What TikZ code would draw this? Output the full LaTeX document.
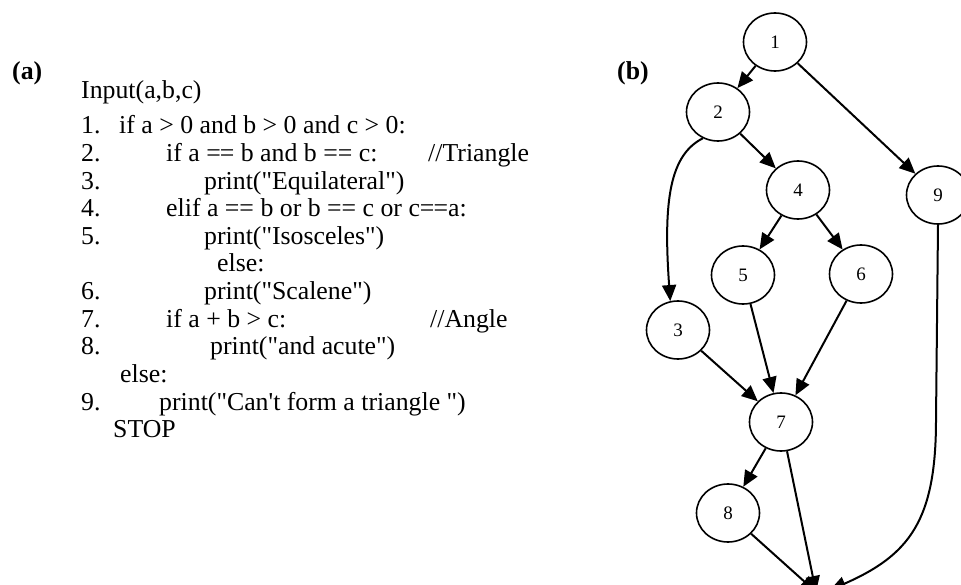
\documentclass[tikz,border=0pt]{standalone}
\usepackage{fontspec}
\setmainfont{Liberation Serif}[Ligatures=TeXOff]
\usetikzlibrary{arrows.meta}
\usetikzlibrary{shapes.geometric}

\begin{document}
\begin{tikzpicture}[x=1pt,y=-1pt,
		vertex/.style={ellipse,draw,line width=1.6pt,minimum width=63pt,minimum height=58pt,inner sep=0pt,font=\fontsize{19}{19}\selectfont},
		flow/.style={-{Triangle[length=16pt,width=14pt]},line width=2pt},
		codeline/.style={anchor=base west,inner sep=0pt,font=\fontsize{25.8}{27.6}\selectfont},
		panel/.style={codeline,font=\fontsize{25.8}{27.6}\selectfont\bfseries}]
		\useasboundingbox (0,0) rectangle (961,585);
		\node[panel] (pa) at (12,80) {(a)};
		\node[panel] (pb) at (617,80) {(b)};
		\node[codeline] (input) at (81,99) {Input(a,b,c)};
		\foreach \n/\y in {1/134,2/161.6,3/189.2,4/216.8,5/244.4,6/299.6,7/327.2,8/354.8,9/410}
			\node[codeline] (num\n) at (81,\y) {\n.};
		\node[codeline] (c1) at (119,134) {if a > 0 and b > 0 and c > 0:};
		\node[codeline] (c2) at (166,161.6) {if a =\kern-1pt= b and b == c:};
		\node[codeline] (t2) at (428,161.6) {//Triangle};
		\node[codeline] (c3) at (204,189.2) {print("Equilateral")};
		\node[codeline] (c4) at (166,216.8) {elif a == b or b == c or c=\kern-1pt=a:};
		\node[codeline] (c5) at (204,244.4) {print("Isosceles")};
		\node[codeline] (e1) at (217,272) {else:};
		\node[codeline] (c6) at (204,299.6) {print("Scalene")};
		\node[codeline] (c7) at (166,327.2) {if a + b > c:};
		\node[codeline] (t7) at (430,327.2) {//Angle};
		\node[codeline] (c8) at (210,354.8) {print("and acute")};
		\node[codeline] (e2) at (120,382.4) {else:};
		\node[codeline] (c9) at (159,410) {print("Can't form a triangle ")};
		\node[codeline] (stop) at (113,437.6) {STOP};
		\node[vertex] (n1) at (775,42) {1};
		\node[vertex] (n2) at (718,112) {2};
		\node[vertex] (n4) at (798,190) {4};
		\node[vertex] (n9) at (938,195) {9};
		\node[vertex] (n5) at (743,275) {5};
		\node[vertex] (n6) at (861,274) {6};
		\node[vertex] (n3) at (678,330) {3};
		\node[vertex] (n7) at (781,422) {7};
		\node[vertex] (n8) at (728,513) {8};
		\coordinate (exit) at (816,592);
		\coordinate (exitr) at (830,590);
		\draw[flow] (n1) -- (n2);
		\draw[flow] (n1) -- (n9);
		\draw[flow] (n2) -- (n4);
		\draw[flow] (n2.-120) .. controls (670,155) and (663,200) .. (n3.105);
		\draw[flow] (n4) -- (n5);
		\draw[flow] (n4) -- (n6);
		\draw[flow] (n3) -- (n7);
		\draw[flow] (n5) -- (n7);
		\draw[flow] (n6) -- (n7);
		\draw[flow] (n7) -- (n8);
		\draw[flow] (n7) -- (exit);
		\draw[flow] (n8) -- (exit);
		\draw[flow] (n9.south) -- ++(-2,195) .. controls +(0,100) and +(80,-35) .. (exitr);
	\end{tikzpicture}
\end{document}
